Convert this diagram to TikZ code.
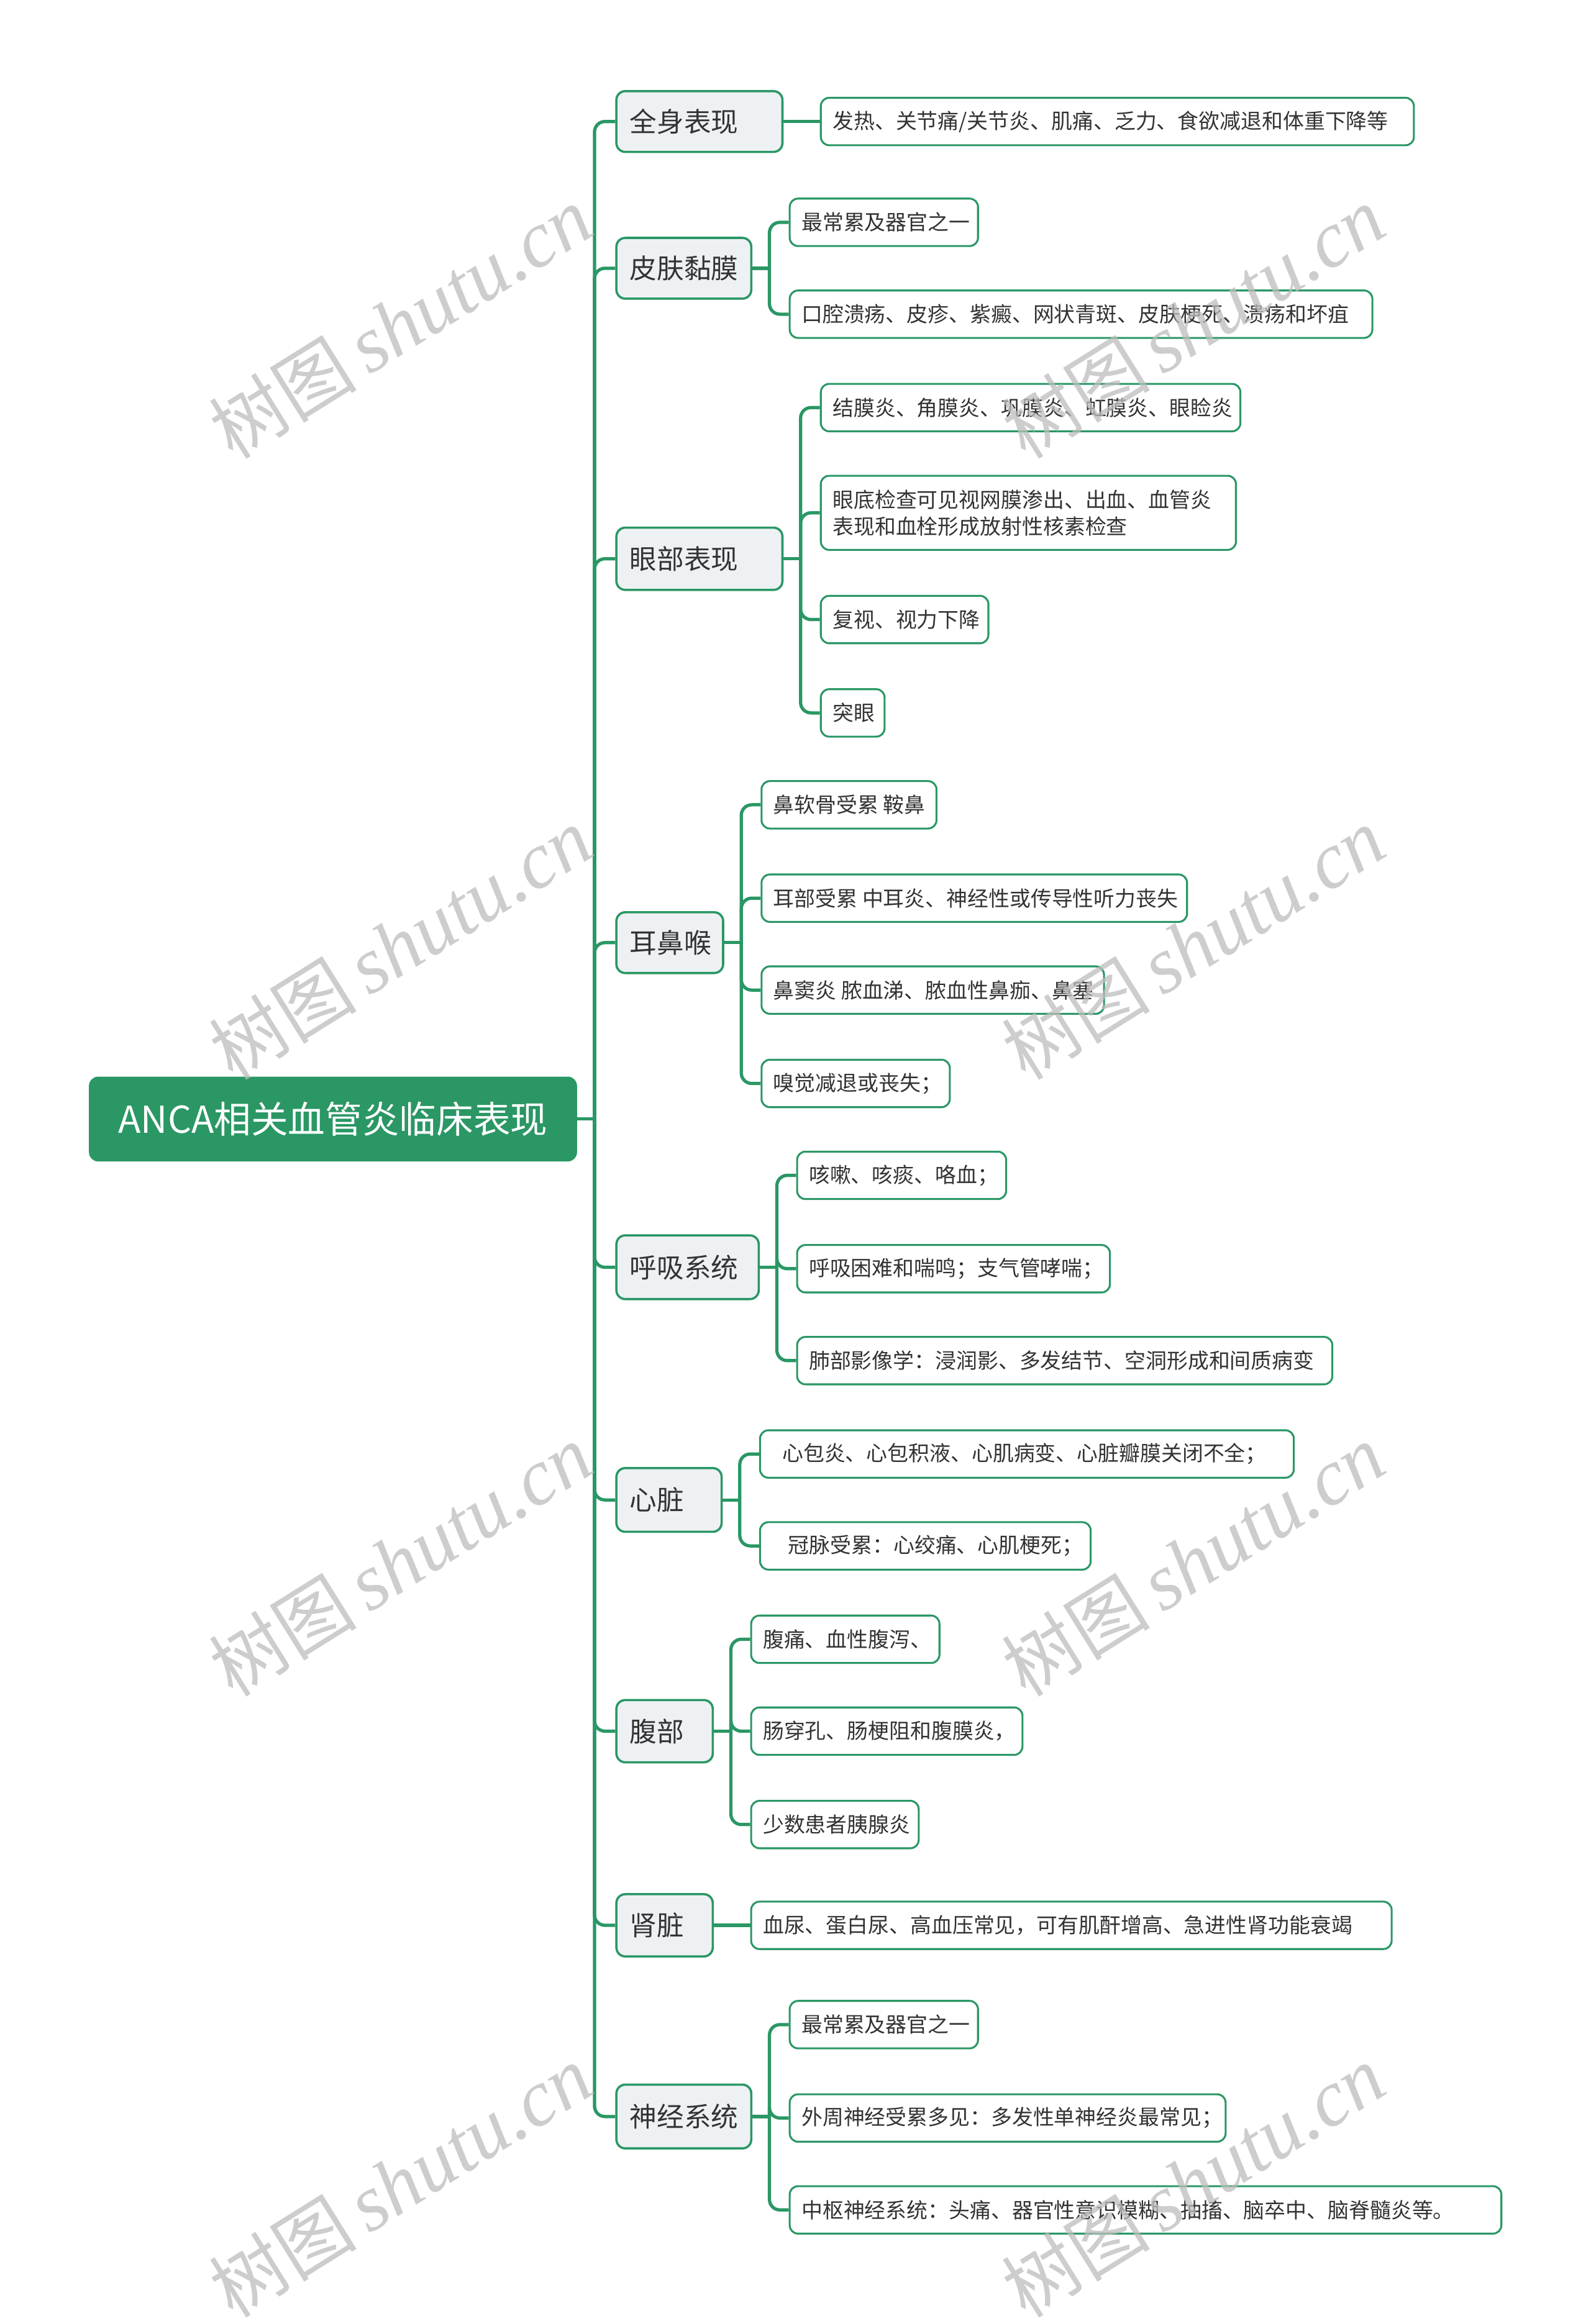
\documentclass[tikz,border=0pt]{standalone}
\usepackage{fontspec}
\setmainfont{Noto Sans CJK SC}
\newfontfamily\cjk{Noto Sans CJK SC}
\newfontfamily\wmlat{Liberation Serif}
\newcommand\fsemi{\char"FF1B\relax}
\newcommand\fcolon{\char"FF1A\relax}
\newcommand\fcomma{\char"FF0C\relax}
\definecolor{G}{HTML}{2A9765}
\definecolor{Lfill}{HTML}{EEF1F4}
\definecolor{Tx}{HTML}{333333}
\definecolor{WM}{HTML}{BDBDBD}
\tikzset{
  rootbox/.style={draw=G, fill=G, line width=0.6pt, rounded corners=2.8pt, text=white,
    font=\cjk\fontsize{12.5}{14}\selectfont, inner sep=0pt, anchor=west},
  lonebox/.style={draw=G, fill=Lfill, line width=0.75pt, rounded corners=3pt, text=Tx,
    font=\cjk\fontsize{9.15}{11}\selectfont, inner xsep=4.5pt, inner ysep=0pt, anchor=west},
  leafbox/.style={draw=G, fill=white, line width=0.65pt, rounded corners=2.8pt, text=Tx,
    font=\cjk\fontsize{7.1}{9}\selectfont, inner xsep=4pt, inner ysep=0pt, anchor=west},
  conn/.style={draw=G, line width=1.1pt, rounded corners=3.5pt},
  wmark/.style={text=WM, opacity=0.75, rotate=32, inner sep=0pt}
}
\newcommand\rootnode[6]{%
  \pgfmathsetmacro\tw{#4*0.5}\pgfmathsetmacro\mh{#5*0.5}%
  \node[rootbox, minimum width=\tw pt, minimum height=\mh pt] (#1) at (#2,#3) {#6};}
\newcommand\lonenode[6]{%
  \pgfmathsetmacro\tw{(#4-18)*0.5}\pgfmathsetmacro\mh{#5*0.5}%
  \node[lonebox, minimum height=\mh pt] (#1) at (#2,#3) {\makebox[\tw pt][l]{#6}};}
\newcommand\leafnode[6]{%
  \pgfmathsetmacro\tw{(#4-16)*0.5}\pgfmathsetmacro\mh{#5*0.5}%
  \node[leafbox, minimum height=\mh pt] (#1) at (#2,#3) {\makebox[\tw pt][l]{#6}};}
\begin{document}
\begin{tikzpicture}[x=0.5pt,y=-0.5pt]
\useasboundingbox (0,0) rectangle (1073,1568);
\fill[white] (0,0) rectangle (1073,1568);

% root
\rootnode{root}{60}{755}{328}{56}{ANCA相关血管炎临床表现}

% level 1
\lonenode{q1}{415}{82}{112}{41}{全身表现}
\lonenode{q2}{415}{181}{91}{41}{皮肤黏膜}
\lonenode{q3}{415}{377}{112}{42}{眼部表现}
\lonenode{q4}{415}{636}{72}{41}{耳鼻喉}
\lonenode{q5}{415}{855}{96}{43}{呼吸系统}
\lonenode{q6}{415}{1012}{71}{43}{心脏}
\lonenode{q7}{415}{1168}{65}{42}{腹部}
\lonenode{q8}{415}{1299}{65}{42}{肾脏}
\lonenode{q9}{415}{1428}{91}{43}{神经系统}

% leaves
\leafnode{a1}{553}{82}{400}{32}{发热、关节痛/关节炎、肌痛、乏力、食欲减退和体重下降等}
\leafnode{b1}{532}{150}{127}{32}{最常累及器官之一}
\leafnode{b2}{532}{212}{393}{32}{口腔溃疡、皮疹、紫癜、网状青斑、皮肤梗死、溃疡和坏疽}
\leafnode{c1}{553}{275}{283}{32}{结膜炎、角膜炎、巩膜炎、虹膜炎、眼睑炎}
\leafnode{c2}{553}{346}{280}{50}{\parbox{\tw pt}{眼底检查可见视网膜渗出、出血、血管炎\\表现和血栓形成放射性核素检查}}
\leafnode{c3}{553}{418}{113}{32}{复视、视力下降}
\leafnode{c4}{553}{481}{43}{32}{突眼}
\leafnode{d1}{513}{543}{118}{32}{鼻软骨受累 鞍鼻}
\leafnode{d2}{513}{606}{287}{32}{耳部受累 中耳炎、神经性或传导性听力丧失}
\leafnode{d3}{513}{668}{231}{32}{鼻窦炎 脓血涕、脓血性鼻痂、鼻塞}
\leafnode{d4}{513}{731}{127}{32}{嗅觉减退或丧失\fsemi}
\leafnode{e1}{537}{793}{141}{32}{咳嗽、咳痰、咯血\fsemi}
\leafnode{e2}{537}{856}{211}{32}{呼吸困难和喘鸣\fsemi 支气管哮喘\fsemi}
\leafnode{e3}{537}{918}{361}{32}{肺部影像学\fcolon 浸润影、多发结节、空洞形成和间质病变}
\leafnode{f1}{512}{981}{360}{32}{\hspace{3.5pt}心包炎、心包积液、心肌病变、心脏瓣膜关闭不全\fsemi}
\leafnode{f2}{512}{1043}{223}{32}{\hspace{5.5pt}冠脉受累\fcolon 心绞痛、心肌梗死\fsemi}
\leafnode{g1}{506}{1106}{127}{32}{腹痛、血性腹泻、}
\leafnode{g2}{506}{1168}{183}{32}{肠穿孔、肠梗阻和腹膜炎\fcomma}
\leafnode{g3}{506}{1231}{113}{32}{少数患者胰腺炎}
\leafnode{h1}{506}{1299}{432}{32}{血尿、蛋白尿、高血压常见\fcomma 可有肌酐增高、急进性肾功能衰竭}
\leafnode{i1}{532}{1366}{127}{32}{最常累及器官之一}
\leafnode{i2}{532}{1429}{294}{32}{外周神经受累多见\fcolon 多发性单神经炎最常见\fsemi}
\leafnode{i3}{532}{1491}{480}{32}{中枢神经系统\fcolon 头痛、器官性意识模糊、抽搐、脑卒中、脑脊髓炎等。}

% trunk
\coordinate (tj) at (401,755);
\draw[conn] (root.east) -- (tj);
\foreach \c in {q1,q2,q3,q4,q5,q6,q7,q8,q9}{\draw[conn] (tj) |- (\c.west);}

% single-child links
\draw[conn] (q1.east) -- (a1.west);
\draw[conn] (q8.east) -- (h1.west);

% grouped links
\coordinate (jb) at (519,181);
\draw[conn] (q2.east) -- (jb);
\foreach \c in {b1,b2}{\draw[conn] (jb) |- (\c.west);}
\coordinate (jc) at (540,377);
\draw[conn] (q3.east) -- (jc);
\foreach \c in {c1,c2,c3,c4}{\draw[conn] (jc) |- (\c.west);}
\coordinate (jd) at (500,636);
\draw[conn] (q4.east) -- (jd);
\foreach \c in {d1,d2,d3,d4}{\draw[conn] (jd) |- (\c.west);}
\coordinate (je) at (524,855);
\draw[conn] (q5.east) -- (je);
\foreach \c in {e1,e2,e3}{\draw[conn] (je) |- (\c.west);}
\coordinate (jf) at (499,1012);
\draw[conn] (q6.east) -- (jf);
\foreach \c in {f1,f2}{\draw[conn] (jf) |- (\c.west);}
\coordinate (jg) at (493,1168);
\draw[conn] (q7.east) -- (jg);
\foreach \c in {g1,g2,g3}{\draw[conn] (jg) |- (\c.west);}
\coordinate (ji) at (519,1428);
\draw[conn] (q9.east) -- (ji);
\foreach \c in {i1,i2,i3}{\draw[conn] (ji) |- (\c.west);}

% watermarks
\foreach \wx in {270,805}{
  \foreach \wy in {218,637,1053,1472}{
    \node[wmark] at (\wx,\wy) {\cjk\fontsize{25}{25}\selectfont 树图\,\wmlat\itshape\fontsize{27}{27}\selectfont shutu.cn};
  }
}
\end{tikzpicture}
\end{document}
